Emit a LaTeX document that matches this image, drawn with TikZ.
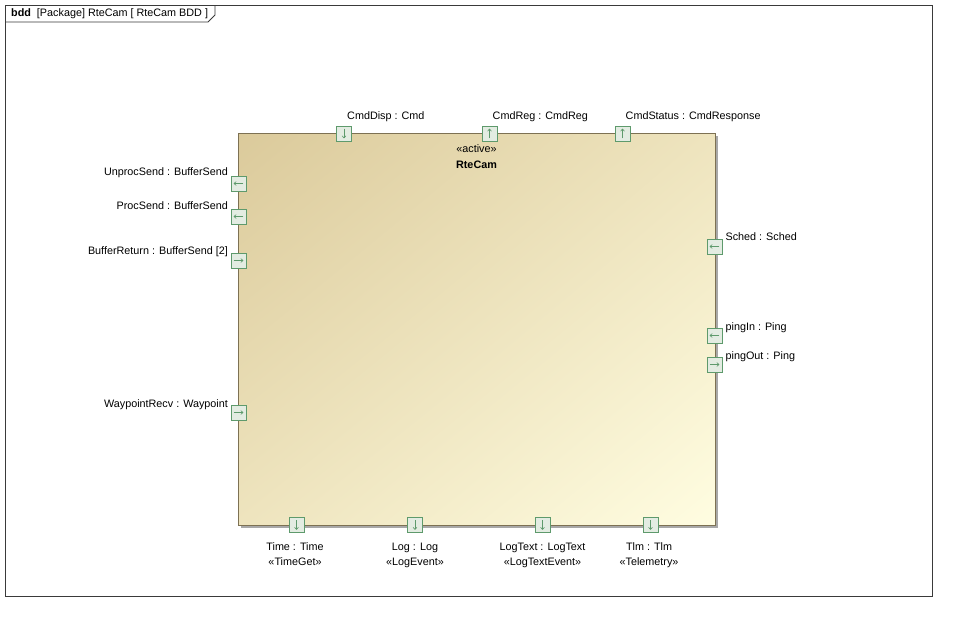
\documentclass[tikz,border=0pt]{standalone}
\usepackage{fontspec}
\setmainfont{Liberation Sans}
\usepackage{xcolor}
\usetikzlibrary{positioning, arrows.meta, shadows, shadings}

\definecolor{blkTop}{HTML}{DBCA9B}
\definecolor{blkMid}{HTML}{EEE4BE}
\definecolor{blkBot}{HTML}{FFFDE1}
\definecolor{blkLine}{HTML}{7D7153}
\definecolor{blkShadow}{HTML}{A8A8A8}
\definecolor{portFill}{HTML}{E3ECE2}
\definecolor{portLine}{HTML}{5E9A6C}
\definecolor{frameLine}{HTML}{3A3A3A}

\begin{document}
\begin{tikzpicture}[
    x=1pt, y=-1pt,
    >={Straight Barb[length=2.2pt,width=4pt]},
    lbl/.style={inner sep=0pt, align=center, font=\fontsize{10.8}{15.3}\selectfont},
    frame/.style={draw=frameLine, line width=0.8pt},
    block/.style={draw=blkLine, line width=0.9pt, minimum width=477pt, minimum height=392pt,
        upper left=blkTop, upper right=blkMid, lower left=blkMid, lower right=blkBot,
        drop shadow={shadow xshift=2.5pt, shadow yshift=-2.5pt, fill=blkShadow, opacity=1}},
    port/.style={draw=portLine, fill=portFill, line width=0.8pt, minimum size=15pt, inner sep=0pt},
    parrow/.style={->, draw=portLine, line width=0.6pt},
]
\useasboundingbox (0,0) rectangle (957,621);

% Diagram frame and tab
\draw[frame] (5,5) rectangle (932,596);
\draw[frame] (5,22) -- (208,22) -- (215,15) -- (215,5);
\node[lbl, anchor=west] (tab) at (11,13.5) {\textbf{bdd}\ \ [Package] RteCam [ RteCam BDD ]};

% Block
\node[block] (blk) at (476.5,329) {};
\node[lbl] (stereo) at ([yshift=-16.5pt]blk.north) {«active»};
\node[lbl, font=\fontsize{10.8}{13}\selectfont\bfseries, below=8pt of stereo] (title) {RteCam};

% Top ports
\node[port] (cmdDisp) at (344,133.5) {};
\node[port] (cmdReg) at (489.5,133.5) {};
\node[port] (cmdStatus) at (622.5,133.5) {};
\node[lbl, anchor=base west] at ([xshift=3pt,yshift=6.5pt]cmdDisp.north) {CmdDisp : Cmd};
\node[lbl, anchor=base west] at ([xshift=3pt,yshift=6.5pt]cmdReg.north) {CmdReg : CmdReg};
\node[lbl, anchor=base west] at ([xshift=3pt,yshift=6.5pt]cmdStatus.north) {CmdStatus : CmdResponse};

% Left ports
\node[port] (unproc) at (238.5,183.5) {};
\node[port] (proc) at (238.5,216.5) {};
\node[port] (bufRet) at (238.5,260.5) {};
\node[port] (wayRecv) at (238.5,412.5) {};
\node[lbl, anchor=base east] at ([xshift=-2.5pt,yshift=8pt]unproc.west) {UnprocSend : BufferSend};
\node[lbl, anchor=base east] at ([xshift=-2.5pt,yshift=7.5pt]proc.west) {ProcSend : BufferSend};
\node[lbl, anchor=base east] at ([xshift=-2.5pt,yshift=6.5pt]bufRet.west) {BufferReturn : BufferSend [2]};
\node[lbl, anchor=base east] at ([xshift=-2.5pt,yshift=5.5pt]wayRecv.west) {WaypointRecv : Waypoint};

% Right ports
\node[port] (sched) at (714.5,246.5) {};
\node[port] (pingIn) at (714.5,335.5) {};
\node[port] (pingOut) at (714.5,364.5) {};
\node[lbl, anchor=base west] at ([xshift=3pt,yshift=6.5pt]sched.east) {Sched : Sched};
\node[lbl, anchor=base west] at ([xshift=3pt,yshift=5.5pt]pingIn.east) {pingIn : Ping};
\node[lbl, anchor=base west] at ([xshift=3pt,yshift=5.5pt]pingOut.east) {pingOut : Ping};

% Bottom ports
\node[port] (time) at (296.5,525) {};
\node[port] (log) at (415,525) {};
\node[port] (logText) at (542.5,525) {};
\node[port] (tlm) at (650.5,525) {};
\node[lbl, anchor=north] at ([xshift=-1.5pt,yshift=-9.5pt]time.south) {Time : Time\\«TimeGet»};
\node[lbl, anchor=north] at ([yshift=-9.5pt]log.south) {Log : Log\\«LogEvent»};
\node[lbl, anchor=north] at ([yshift=-9.5pt]logText.south) {LogText : LogText\\«LogTextEvent»};
\node[lbl, anchor=north] at ([xshift=-1.5pt,yshift=-9.5pt]tlm.south) {Tlm : Tlm\\«Telemetry»};

% Port directions
\foreach \p in {cmdDisp, time, log, logText, tlm}
    \draw[parrow] ([yshift=-3pt]\p.north) -- ([yshift=3pt]\p.south);
\foreach \p in {cmdReg, cmdStatus}
    \draw[parrow] ([yshift=3pt]\p.south) -- ([yshift=-3pt]\p.north);
\foreach \p in {unproc, proc, sched, pingIn}
    \draw[parrow] ([xshift=-3pt]\p.east) -- ([xshift=3pt]\p.west);
\foreach \p in {bufRet, wayRecv, pingOut}
    \draw[parrow] ([xshift=3pt]\p.west) -- ([xshift=-3pt]\p.east);

\end{tikzpicture}
\end{document}
